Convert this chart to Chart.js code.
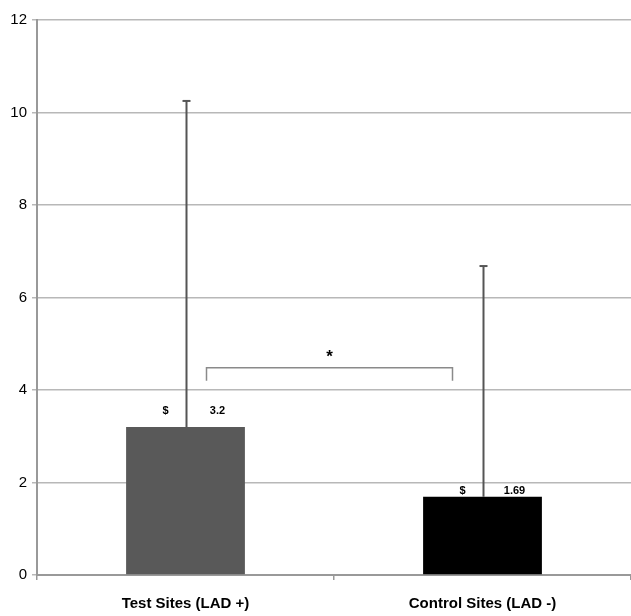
<!DOCTYPE html>
<html><head><meta charset="utf-8">
<script src="https://cdn.jsdelivr.net/npm/chart.js@4"></script>
<style>html,body{margin:0;padding:0;background:#fff;}#wrap{width:631px;height:616px;}</style>
</head><body><div id="wrap"><canvas id="c" width="631" height="616"></canvas></div>
<script>
const categories = ["Test Sites (LAD +)", "Control Sites (LAD -)"];
const means = [3.2, 1.69];
const errorTops = [10.25, 6.68];
const valueLabels = ["3.2", "1.69"];
const markLabels = ["$", "$"];
const barColors = ["#595959", "#000000"];
const yTicks = [0, 2, 4, 6, 8, 10, 12];

const overlay = {
  id: 'overlay',
  afterDatasetsDraw(chart) {
    const ctx = chart.ctx;
    const y = chart.scales.y;
    const meta = chart.getDatasetMeta(0);
    ctx.save();
    meta.data.forEach((bar, i) => {
      const x = Math.round(bar.x) + 0.5;
      const yt = y.getPixelForValue(errorTops[i]);
      ctx.strokeStyle = '#555';
      ctx.lineWidth = 2;
      ctx.beginPath();
      ctx.moveTo(x, bar.y);
      ctx.lineTo(x, yt);
      ctx.stroke();
      ctx.beginPath();
      ctx.moveTo(x - 4, yt);
      ctx.lineTo(x + 4, yt);
      ctx.stroke();
    });
    const offs = [17, 6];
    ctx.fillStyle = '#000';
    ctx.font = 'bold 11px "Liberation Sans", Arial, sans-serif';
    ctx.textAlign = 'center';
    ctx.textBaseline = 'bottom';
    meta.data.forEach((bar, i) => {
      const ly = bar.y - offs[i] + 6;
      ctx.fillText(markLabels[i], bar.x - 20, ly);
      ctx.fillText(valueLabels[i], bar.x + 32, ly);
    });
    const b0 = meta.data[0], b1 = meta.data[1];
    const xl = b0.x + 21, xr = b1.x - 30;
    const yb = y.getPixelForValue(4.48);
    const yl = y.getPixelForValue(4.2);
    ctx.strokeStyle = '#8a8a8a';
    ctx.lineWidth = 1.5;
    ctx.beginPath();
    ctx.moveTo(xl, yl);
    ctx.lineTo(xl, yb);
    ctx.lineTo(xr, yb);
    ctx.lineTo(xr, yl);
    ctx.stroke();
    ctx.fillStyle = '#000';
    ctx.font = 'bold 17px "Liberation Sans", Arial, sans-serif';
    ctx.textBaseline = 'middle';
    ctx.fillText('*', (xl + xr) / 2, yb - 10);
    ctx.restore();
  }
};

new Chart(document.getElementById('c'), {
  type: 'bar',
  data: {
    labels: categories,
    datasets: [{
      data: means,
      backgroundColor: barColors,
      borderWidth: 0,
      barPercentage: 0.4,
      categoryPercentage: 1.0
    }]
  },
  options: {
    responsive: false,
    animation: false,
    layout: { padding: { top: 20, right: 0, left: 0, bottom: 0 } },
    plugins: { legend: { display: false }, tooltip: { enabled: false } },
    scales: {
      x: {
        offset: true,
        grid: { display: true, drawOnChartArea: false, offset: true, tickLength: 5, color: '#999', lineWidth: 1.5 },
        border: { color: '#999', width: 2 },
        ticks: { color: '#000', font: { family: '"Liberation Sans", Arial, sans-serif', size: 15, weight: 'bold' }, padding: 15 },
        afterFit(s) { s.height = 41; }
      },
      y: {
        min: 0, max: 12,
        afterBuildTicks(s) { s.ticks = yTicks.map(v => ({ value: v })); },
        grid: { color: '#b8b8b8', lineWidth: 1.5, tickLength: 5 },
        border: { color: '#999', width: 2 },
        ticks: { color: '#000', font: { family: '"Liberation Sans", Arial, sans-serif', size: 15 }, padding: 5 },
        afterFit(s) { s.width = 37; }
      }
    }
  },
  plugins: [overlay]
});
</script>
</body></html>
